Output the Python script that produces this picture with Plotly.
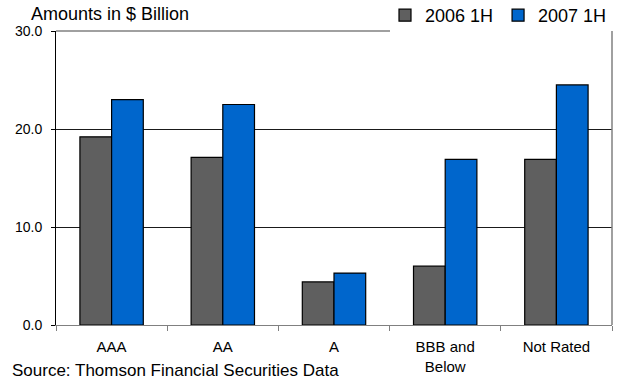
import plotly.graph_objects as go

categories = ["AAA", "AA", "A", "BBB and<br>Below", "Not Rated"]
values_2006 = [19.2, 17.1, 4.4, 6.0, 16.9]
values_2007 = [23.0, 22.5, 5.3, 16.9, 24.5]
y_ticks = [0, 10, 20, 30]

FONT = "Liberation Sans, Arial, sans-serif"

L, R, T, B = 56, 7, 31, 58
W, H = 619, 383
plot_w = W - L - R
plot_h = H - T - B

fig = go.Figure()
fig.add_trace(go.Bar(
    x=categories, y=values_2006, name="2006 1H",
    marker=dict(color="#5f5f5f", line=dict(color="#000000", width=1.2)),
))
fig.add_trace(go.Bar(
    x=categories, y=values_2007, name="2007 1H",
    marker=dict(color="#0066cc", line=dict(color="#000000", width=1.2)),
))

fig.update_layout(
    width=W, height=H,
    margin=dict(l=L, r=R, t=T, b=B, autoexpand=False),
    paper_bgcolor="white", plot_bgcolor="white",
    barmode="group", bargap=0.43, bargroupgap=0,
    font=dict(family=FONT, size=15, color="#000000"),
    showlegend=True,
    legend=dict(
        orientation="h", x=1.0, xanchor="right", y=1 - 3 / plot_h, yanchor="bottom",
        bgcolor="rgba(255,255,255,0)", font=dict(size=18),
        itemwidth=30, traceorder="normal", tracegroupgap=0,
    ),
    xaxis=dict(
        showgrid=False, showline=True, linecolor="#808080", linewidth=1,
        ticks="outside", tickson="boundaries", ticklen=5, tickcolor="#808080",
        tickfont=dict(size=15), ticklabelstandoff=8, fixedrange=True,
    ),
    yaxis=dict(
        range=[0, 30], tickvals=y_ticks, tickformat=".1f",
        showgrid=True, gridcolor="#1a1a1a", gridwidth=1,
        showline=True, linecolor="#000000", linewidth=1,
        ticks="outside", ticklen=4, tickcolor="#000000",
        tickfont=dict(size=14), ticklabelstandoff=6, zeroline=False,
    ),
    annotations=[
        dict(text="Amounts in $ Billion", xref="paper", yref="paper",
             x=(29 - L) / plot_w, y=1.0, xanchor="left", yanchor="bottom", yshift=5,
             showarrow=False, font=dict(size=18)),
        dict(text="Source: Thomson Financial Securities Data", xref="paper", yref="paper",
             x=(10 - L) / plot_w, y=0, xanchor="left", yanchor="bottom", yshift=-57,
             showarrow=False, font=dict(size=17)),
    ],
    shapes=[
        dict(type="line", xref="paper", yref="paper", x0=0, x1=(390 - L) / plot_w, y0=1, y1=1,
             line=dict(color="#808080", width=1.5)),
        dict(type="line", xref="paper", yref="paper", x0=1, x1=1, y0=0, y1=1,
             line=dict(color="#808080", width=1.5)),
    ],
)

fig.write_html("out.html")
